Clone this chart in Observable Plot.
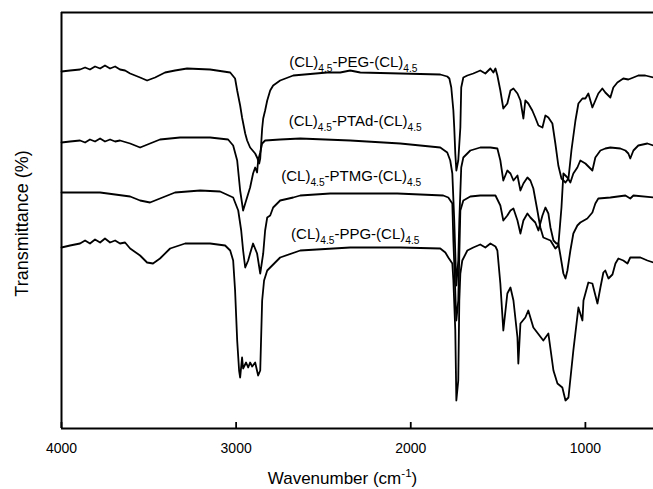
<!DOCTYPE html>
<html><head><meta charset="utf-8">
<script src="https://cdn.jsdelivr.net/npm/d3@7"></script>
<script src="https://cdn.jsdelivr.net/npm/@observablehq/plot@0.6"></script>
<style>
body{margin:0;background:#fff;}
svg{font-family:"Liberation Sans",Arial,Helvetica,sans-serif;}
</style>
</head><body><div id="chart"></div>
<script>
// FTIR spectra: [wavenumber (cm-1), transmittance (a.u., vertically offset)]
const seriesNames = ["PEG", "PTAd", "PTMG", "PPG"];

const peg = [
[4000,357],[3951,358],[3894,359],[3865,361],[3837,359],[3808,362],[3779,360],[3751,363],[3722,360],[3693,362],[3665,359],[3636,358],[3607,355],[3550,351],[3510,348],[3464,351],[3407,356],[3350,358],[3281,360],[3149,359],[3034,356],[3006,350],[2994,338],[2977,323],[2966,311],[2948,295],[2937,288],[2920,281],[2891,275],[2880,271],[2868,265],[2862,270],[2851,300],[2845,310],[2834,318],[2822,328],[2805,338],[2788,343],[2748,348],[2673,353],[2479,356],[2404,356],[2347,358],[2289,356],[2060,355],[1831,354],[1791,352],[1779,350],[1768,341],[1756,318],[1751,301],[1745,275],[1739,258],[1728,268],[1716,301],[1711,341],[1699,351],[1676,353],[1642,355],[1602,358],[1573,355],[1544,360],[1527,356],[1515,360],[1504,353],[1487,338],[1470,320],[1447,325],[1429,338],[1412,340],[1389,335],[1372,328],[1355,310],[1344,328],[1327,325],[1304,318],[1287,311],[1269,303],[1246,301],[1229,313],[1212,311],[1189,305],[1172,285],[1155,263],[1137,250],[1114,246],[1097,250],[1080,278],[1057,308],[1040,325],[1017,330],[1000,330],[983,335],[960,321],[943,328],[926,335],[903,340],[886,336],[857,331],[840,341],[817,346],[783,350],[754,349],[725,351],[697,353],[657,353],[610,351]
];

const ptad = [
[4000,286],[3951,287],[3894,288],[3865,286],[3837,289],[3808,287],[3779,290],[3751,287],[3722,289],[3693,287],[3665,288],[3607,285],[3550,281],[3493,285],[3436,289],[3321,291],[3149,291],[3046,289],[3017,283],[2994,268],[2977,238],[2960,218],[2948,225],[2920,241],[2903,255],[2891,261],[2880,256],[2874,268],[2862,276],[2851,285],[2834,288],[2748,289],[2633,290],[2347,288],[2060,285],[1831,281],[1791,276],[1774,268],[1762,255],[1751,208],[1739,143],[1728,168],[1722,208],[1711,261],[1699,271],[1659,278],[1602,281],[1544,281],[1504,280],[1487,268],[1470,248],[1447,258],[1429,255],[1412,248],[1389,253],[1372,238],[1355,245],[1332,251],[1315,248],[1298,240],[1275,218],[1258,201],[1241,191],[1200,188],[1172,180],[1155,183],[1137,221],[1126,255],[1103,251],[1086,246],[1069,255],[1046,261],[1029,268],[1000,265],[960,258],[943,271],[914,278],[886,280],[857,281],[800,280],[771,278],[754,275],[743,270],[725,278],[697,283],[645,285],[610,283]
];

const ptmg = [
[4000,236],[3779,236],[3607,232],[3550,228],[3493,226],[3436,230],[3350,236],[3206,238],[3092,237],[3017,231],[2988,218],[2971,198],[2960,178],[2948,161],[2931,168],[2920,175],[2903,185],[2880,175],[2862,155],[2845,175],[2834,198],[2822,211],[2805,213],[2788,221],[2765,225],[2748,228],[2673,231],[2633,233],[2461,235],[2272,235],[2077,235],[1814,233],[1785,231],[1762,225],[1756,188],[1739,108],[1728,128],[1716,218],[1699,228],[1659,232],[1602,233],[1515,233],[1487,223],[1470,208],[1447,213],[1429,218],[1412,220],[1389,208],[1372,195],[1355,208],[1332,215],[1315,211],[1287,206],[1269,198],[1246,213],[1229,221],[1212,215],[1200,201],[1183,188],[1166,185],[1155,185],[1143,173],[1126,155],[1114,150],[1103,158],[1086,178],[1069,195],[1046,203],[1029,206],[989,210],[960,216],[943,225],[926,230],[857,231],[771,233],[743,230],[725,233],[610,231]
];

const ppg = [
[4000,181],[3951,183],[3894,185],[3865,188],[3837,185],[3808,189],[3779,186],[3751,190],[3722,186],[3693,188],[3665,185],[3636,186],[3607,180],[3550,173],[3510,166],[3476,165],[3436,170],[3378,180],[3292,185],[3149,185],[3063,183],[3034,178],[3017,168],[3006,138],[2994,88],[2983,58],[2977,51],[2966,71],[2960,60],[2943,66],[2931,61],[2920,66],[2908,62],[2891,66],[2874,53],[2862,58],[2851,128],[2840,148],[2822,158],[2748,171],[2633,178],[2347,181],[2060,181],[1831,180],[1802,176],[1785,171],[1762,165],[1756,148],[1745,98],[1739,28],[1728,48],[1722,128],[1716,155],[1705,168],[1676,178],[1642,181],[1602,184],[1573,181],[1544,185],[1515,182],[1504,178],[1487,145],[1470,98],[1447,135],[1429,141],[1412,128],[1389,91],[1384,65],[1372,105],[1344,111],[1327,118],[1298,101],[1241,88],[1212,95],[1183,58],[1160,45],[1132,41],[1114,28],[1097,31],[1069,78],[1040,121],[1017,108],[1011,128],[983,146],[960,145],[931,125],[914,141],[897,156],[886,158],[868,150],[845,154],[828,165],[811,170],[783,168],[759,165],[743,171],[685,171],[645,168],[610,166]
];

const xTicks = [4000, 3000, 2000, 1000];
const xDomain = [4000, 610];
const yDomain = [0, 416];

const curveLabels = [
  {wn: 2329, t: 366, text: "(CL)_{4.5}-PEG-(CL)_{4.5}"},
  {wn: 2318, t: 307, text: "(CL)_{4.5}-PTAd-(CL)_{4.5}"},
  {wn: 2341, t: 252, text: "(CL)_{4.5}-PTMG-(CL)_{4.5}"},
  {wn: 2318, t: 194, text: "(CL)_{4.5}-PPG-(CL)_{4.5}"}
];
const xTitle = "Wavenumber (cm^{-1})";
const yTitle = "Transmittance (%)";

const rows = [];
[peg, ptad, ptmg, ppg].forEach((arr, i) =>
  arr.forEach(([wn, t]) => rows.push({series: seriesNames[i], wn, t})));

const svg = Plot.plot({
  width: 653, height: 489,
  marginLeft: 61, marginRight: 0, marginTop: 12, marginBottom: 61,
  style: {fontFamily: '"Liberation Sans", Arial, sans-serif', background: "white", color: "black", overflow: "visible"},
  x: {domain: xDomain, label: null},
  y: {domain: yDomain, axis: null},
  marks: [
    Plot.line(rows, {x: "wn", y: "t", z: "series", stroke: "black", strokeWidth: 1.8, strokeLinejoin: "round"}),
    Plot.ruleY([yDomain[0], yDomain[1]], {stroke: "black", strokeWidth: 2}),
    Plot.ruleX([xDomain[0]], {stroke: "black", strokeWidth: 2}),
    // inward tick marks (short ticks at the bottom of the frame)
    Plot.tickX(xTicks, {x: d => d, insetTop: 410, stroke: "black", strokeWidth: 1.8}),
    // tick labels
    Plot.axisX({ticks: xTicks, tickSize: 0, tickPadding: 15, tickFormat: d => String(d), fontSize: 14, letterSpacing: 1, label: null}),
    Plot.text(curveLabels, {x: "wn", y: "t", text: "text", fontSize: 15, textAnchor: "middle", fill: "black"}),
    Plot.text([xTitle], {frameAnchor: "bottom", dy: 50, dx: -15, fontSize: 17, letterSpacing: 1.2, textAnchor: "middle", lineAnchor: "middle", fill: "black"}),
    Plot.text([yTitle], {frameAnchor: "left", dx: -39, dy: 3, rotate: -90, fontSize: 18, letterSpacing: 0.4, textAnchor: "middle", lineAnchor: "middle", fill: "black"})
  ]
});

// turn _{..} / ^{..} markup into subscript / superscript tspans
const NS = "http://www.w3.org/2000/svg";
svg.querySelectorAll("text").forEach(el => {
  const s = el.textContent;
  if (!/[_^]\{/.test(s)) return;
  const fs = parseFloat(el.closest("[font-size]")?.getAttribute("font-size")) || 15;
  el.textContent = "";
  let cur = 0, last = 0, m;
  const re = /([_^])\{([^}]*)\}/g;
  const add = (txt, target, small) => {
    const t = document.createElementNS(NS, "tspan");
    t.textContent = txt;
    const d = target - cur;
    if (d) t.setAttribute("dy", d);
    if (small) t.setAttribute("font-size", small);
    cur = target;
    el.appendChild(t);
  };
  while ((m = re.exec(s))) {
    if (m.index > last) add(s.slice(last, m.index), 0);
    add(m[2], m[1] === "_" ? fs * 0.3 : -fs * 0.38, fs * 0.68);
    last = re.lastIndex;
  }
  if (last < s.length) add(s.slice(last), 0);
});

document.getElementById("chart").appendChild(svg);
</script>
</body></html>
